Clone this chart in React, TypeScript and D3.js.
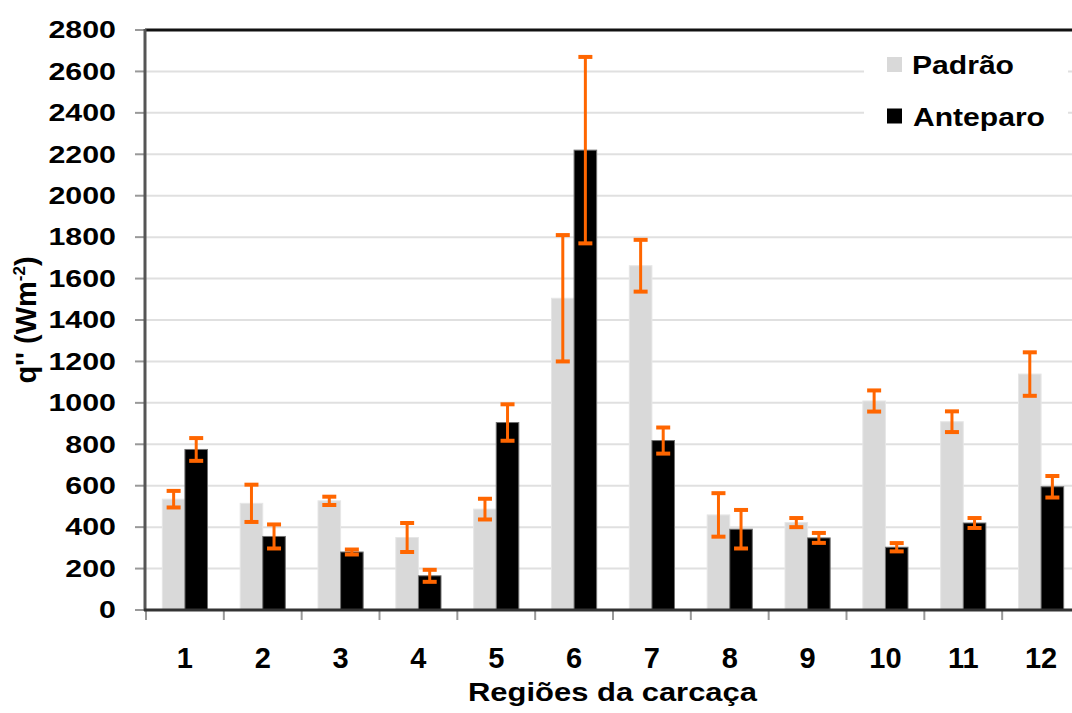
import React from "react";
import * as d3 from "d3";

const categories = ["1", "2", "3", "4", "5", "6", "7", "8", "9", "10", "11", "12"];
const seriesNames = ["Padrão", "Anteparo"];
const padrao = [535, 515, 527, 350, 487, 1505, 1662, 459, 422, 1009, 909, 1139];
const padraoErr = [40, 90, 20, 70, 50, 305, 125, 105, 22, 51, 50, 105];
const anteparo = [775, 355, 280, 165, 905, 2220, 818, 390, 348, 303, 420, 595];
const anteparoErr = [55, 58, 12, 29, 88, 450, 63, 93, 24, 20, 24, 52];
const yTicks = [0, 200, 400, 600, 800, 1000, 1200, 1400, 1600, 1800, 2000, 2200, 2400, 2600, 2800];

const W = 1072;
const H = 713;
const FONT = "'Liberation Sans', Arial, sans-serif";

export default function App() {
  const x0 = 146;
  const x1 = 1080;
  const yBase = 610;
  const yTop = 30;
  const x = d3.scaleBand<string>().domain(categories).range([x0, x1]).paddingInner(0.42).paddingOuter(0.21);
  const sub = d3.scaleBand<string>().domain(seriesNames).range([0, x.bandwidth()]).padding(0);
  const y = d3.scaleLinear().domain([0, 2800]).range([yBase, yTop]);
  const step = x.step();
  const boundaries = d3.range(categories.length + 1).map((i) => x0 + i * step);

  const series = [
    { name: seriesNames[0], values: padrao, errs: padraoErr, fill: "#d9d9d9", stroke: "#e6e6e6" },
    { name: seriesNames[1], values: anteparo, errs: anteparoErr, fill: "#000000", stroke: "#707070" },
  ];

  return (
    <svg width={W} height={H} style={{ position: "absolute", left: 0, top: 0, background: "#fff" }} fontFamily={FONT}>
      <rect x={0} y={0} width={W} height={H} fill="#fff" />
      {/* gridlines */}
      {yTicks.filter((t) => t > 0 && t < 2800).map((t) => (
        <line key={"g" + t} x1={x0} x2={W} y1={y(t)} y2={y(t)} stroke="#e0e0e0" strokeWidth={2} />
      ))}
      {/* legend background */}
      <rect x={864} y={40} width={204} height={100} fill="#fff" />
      {/* bars */}
      {series.map((s) =>
        categories.map((c, i) => (
          <rect
            key={s.name + c}
            x={(x(c) as number) + (sub(s.name) as number)}
            y={y(s.values[i])}
            width={sub.bandwidth()}
            height={yBase - y(s.values[i])}
            fill={s.fill}
            stroke={s.stroke}
            strokeWidth={1}
          />
        ))
      )}
      {/* error bars */}
      {series.map((s) =>
        categories.map((c, i) => {
          const cx = (x(c) as number) + (sub(s.name) as number) + sub.bandwidth() / 2;
          const top = y(s.values[i] + s.errs[i]);
          const bot = y(s.values[i] - s.errs[i]);
          return (
            <g key={"e" + s.name + c} stroke="#ff6600">
              <line x1={cx} x2={cx} y1={top} y2={bot} strokeWidth={3} />
              <line x1={cx - 7} x2={cx + 7} y1={top} y2={top} strokeWidth={4} />
              <line x1={cx - 7} x2={cx + 7} y1={bot} y2={bot} strokeWidth={4} />
            </g>
          );
        })
      )}
      {/* top border */}
      <line x1={x0 - 1} x2={W} y1={yTop} y2={yTop} stroke="#111" strokeWidth={3} />
      {/* y axis */}
      {yTicks.map((t) => (
        <line key={"yt" + t} x1={135} x2={x0} y1={y(t)} y2={y(t)} stroke="#999" strokeWidth={2} />
      ))}
      <line x1={x0 - 1} x2={x0 - 1} y1={yTop - 1} y2={yBase + 1} stroke="#555" strokeWidth={3} />
      {yTicks.map((t) => (
        <g key={"yl" + t} transform={`translate(116,${y(t) + 8.3}) scale(1.32,1)`}>
          <text textAnchor="end" fontSize={23} fontWeight="bold" fill="#000">
            {t}
          </text>
        </g>
      ))}
      {/* x axis */}
      {boundaries.map((b, i) => (
        <line key={"xt" + i} x1={b} x2={b} y1={yBase} y2={yBase + 10} stroke="#999" strokeWidth={2} />
      ))}
      <line x1={x0 - 2} x2={W} y1={yBase} y2={yBase} stroke="#333" strokeWidth={3} />
      {categories.map((c) => (
        <text
          key={"xl" + c}
          x={(x(c) as number) + x.bandwidth() / 2}
          y={668}
          textAnchor="middle"
          fontSize={29}
          fontWeight="bold"
          fill="#000"
        >
          {c}
        </text>
      ))}
      {/* axis titles */}
      <text x={468} y={701} fontSize={25.6} fontWeight="bold" textLength={289} lengthAdjust="spacingAndGlyphs" fill="#000">
        Regiões da carcaça
      </text>
      <text
        transform="translate(36,320) rotate(-90)"
        textAnchor="middle"
        fontSize={29}
        fontWeight="bold"
        fill="#000"
      >
        q'' (Wm<tspan fontSize={17} dy={-11}>-2</tspan>
        <tspan dy={11}>)</tspan>
      </text>
      {/* legend */}
      <rect x={887} y={57} width={15} height={15} fill="#d9d9d9" />
      <text x={912} y={74} fontSize={26.5} fontWeight="bold" textLength={102} lengthAdjust="spacingAndGlyphs" fill="#000">
        {seriesNames[0]}
      </text>
      <rect x={887} y={108.5} width={15} height={15} fill="#000" />
      <text x={913} y={126} fontSize={26.5} fontWeight="bold" textLength={132} lengthAdjust="spacingAndGlyphs" fill="#000">
        {seriesNames[1]}
      </text>
    </svg>
  );
}
